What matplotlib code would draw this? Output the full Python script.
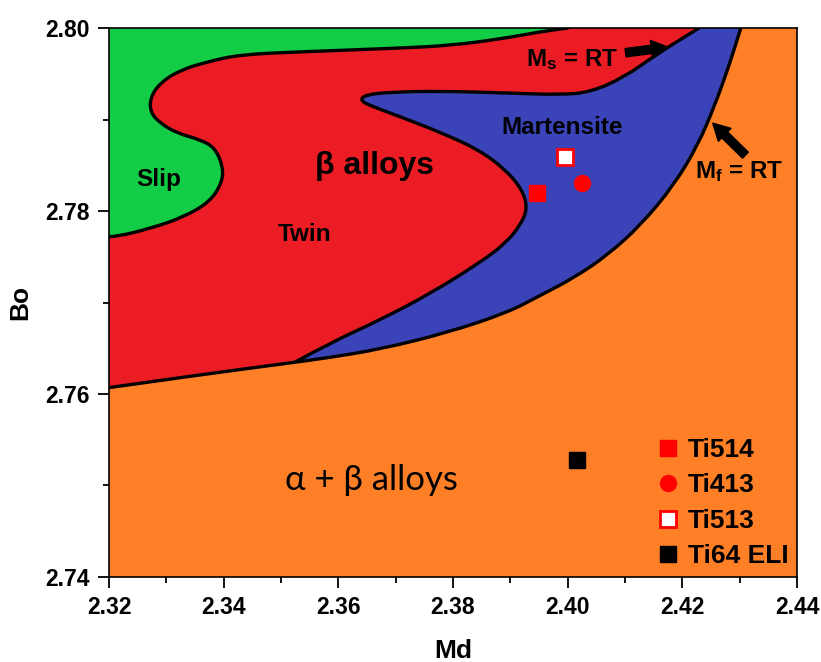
"""Bo-Md phase stability map with alloy positions."""
import numpy as np
import matplotlib
matplotlib.use("Agg")
import matplotlib.pyplot as plt
from matplotlib.path import Path
from matplotlib.patches import PathPatch
from matplotlib.ticker import MultipleLocator, FormatStrFormatter

plt.rcParams["font.family"] = ["Liberation Sans", "DejaVu Sans"]
plt.rcParams["font.weight"] = "bold"
plt.rcParams["mathtext.fontset"] = "custom"
plt.rcParams["mathtext.rm"] = "Liberation Sans:bold"
plt.rcParams["mathtext.it"] = "Liberation Sans:bold"
plt.rcParams["mathtext.bf"] = "Liberation Sans:bold"

XLIM = (2.32, 2.44)
YLIM = (2.74, 2.80)

# alpha+beta / beta boundary, continuing as the Mf = RT line
bottom_md = [2.3200, 2.3359, 2.3516, 2.3586, 2.3673, 2.3790, 2.3895, 2.3953,
             2.4011, 2.4070, 2.4128, 2.4185, 2.4227, 2.4255, 2.4280, 2.4302]
bottom_bo = [2.7607, 2.7621, 2.7634, 2.7640, 2.7649, 2.7667, 2.7689, 2.7708,
             2.7727, 2.7752, 2.7785, 2.7828, 2.7872, 2.7913, 2.7956, 2.8000]

# slip / twin boundary
slip_md = [2.3200, 2.3214, 2.3272, 2.3329, 2.3376, 2.3397, 2.3399, 2.3385,
           2.3359, 2.3319, 2.3289, 2.3272, 2.3272, 2.3289, 2.3324, 2.3371,
           2.3429, 2.3534, 2.3708, 2.3796, 2.3883, 2.3953, 2.4000]
slip_bo = [2.7772, 2.7772, 2.7781, 2.7793, 2.7810, 2.7831, 2.7848, 2.7869,
           2.7878, 2.7885, 2.7896, 2.7908, 2.7924, 2.7940, 2.7954, 2.7963,
           2.7971, 2.7974, 2.7978, 2.7981, 2.7988, 2.7996, 2.8000]

# Ms = RT line (left edge of martensite field)
ms_md = [2.3525, 2.3586, 2.3673, 2.3761, 2.3848, 2.3892, 2.3918, 2.3930,
         2.3921, 2.3892, 2.3845, 2.3778, 2.3708, 2.3656, 2.3638, 2.3647,
         2.3691, 2.3778, 2.3895, 2.3988, 2.4040, 2.4098, 2.4157, 2.4206, 2.4229]
ms_bo = [2.7635, 2.7656, 2.7681, 2.7710, 2.7744, 2.7765, 2.7785, 2.7803,
         2.7823, 2.7845, 2.7867, 2.7886, 2.7903, 2.7915, 2.7921, 2.7927,
         2.7930, 2.7931, 2.7929, 2.7927, 2.7930, 2.7946, 2.7972, 2.7991, 2.8000]

alloys = ["Ti514", "Ti413", "Ti513", "Ti64 ELI"]
alloy_md = [2.3946, 2.4025, 2.3995, 2.4016]
alloy_bo = [2.7820, 2.7831, 2.7859, 2.7528]

GREEN = "#12cd45"
RED = "#ec1c24"
BLUE = "#3a43b8"
ORANGE = "#fe7f26"


def smooth_path(*segments, closed=False):
    """Quadratic-bezier path per segment (read points used as control points),
    segments joined by straight lines."""
    verts, codes = [], []
    for xs, ys in segments:
        pts = np.column_stack([xs, ys])
        verts.append(pts[0])
        codes.append(Path.LINETO if codes else Path.MOVETO)
        for i in range(1, len(pts) - 1):
            verts += [pts[i], (pts[i] + pts[i + 1]) / 2]
            codes += [Path.CURVE3, Path.CURVE3]
        if len(pts) > 1:
            verts.append(pts[-1])
            codes.append(Path.LINETO)
    if closed:
        verts.append(verts[0])
        codes.append(Path.CLOSEPOLY)
    return Path(verts, codes)


fig = plt.figure(figsize=(8.21, 6.62), dpi=100)
ax = fig.add_axes([0.1328, 0.1284, 0.838, 0.8293])
ax.set_facecolor(ORANGE)

corner = ([XLIM[0]], [YLIM[1]])

# beta field (everything above the bottom line)
ax.add_patch(PathPatch(smooth_path((bottom_md, bottom_bo), corner, closed=True),
                       fc=RED, lw=0, zorder=1))
# slip field
ax.add_patch(PathPatch(smooth_path((slip_md, slip_bo), corner, closed=True),
                       fc=GREEN, lw=0, zorder=1))
# martensite field: up the Ms line, then back down along the Mf line
bmd = np.array(bottom_md)
bbo = np.array(bottom_bo)
right = bmd > ms_md[0]
ax.add_patch(PathPatch(smooth_path((ms_md, ms_bo), (bmd[right][::-1], bbo[right][::-1]),
                                   closed=True), fc=BLUE, lw=0, zorder=1))

for xs, ys in [(bottom_md, bottom_bo), (slip_md, slip_bo), (ms_md, ms_bo)]:
    ax.add_patch(PathPatch(smooth_path((xs, ys)), fill=False, ec="black", lw=2.4,
                           joinstyle="round", capstyle="round", zorder=2))

styles = [dict(marker="s", mfc="red", mec="red"),
          dict(marker="o", mfc="red", mec="red"),
          dict(marker="s", mfc="white", mec="red", mew=2),
          dict(marker="s", mfc="black", mec="black")]
for name, x, y, st in zip(alloys, alloy_md, alloy_bo, styles):
    ax.plot([x], [y], linestyle="none", ms=11.5, label=name, zorder=3, **st)

ax.text(2.3663, 2.7849, "β alloys", fontsize=23, ha="center", va="center", zorder=4)
ax.text(2.3286, 2.7834, "Slip", fontsize=17.5, ha="center", va="center", zorder=4)
ax.text(2.3541, 2.7774, "Twin", fontsize=17.5, ha="center", va="center", zorder=4)
ax.text(2.3990, 2.7891, "Martensite", fontsize=17.5, ha="center", va="center", zorder=4)
ax.text(2.4007, 2.7965, r"M$_\mathrm{s}$ = RT", fontsize=17.5, ha="center", va="center", zorder=4)
ax.text(2.4299, 2.7843, r"M$_\mathrm{f}$ = RT", fontsize=17.5, ha="center", va="center", zorder=4)
ax.text(2.3658, 2.7506, "α + β alloys", fontsize=25, fontweight="normal",
        family=["Lato", "Open Sans", "DejaVu Sans"], ha="center", va="center", zorder=4)

arrow = dict(arrowstyle="simple,head_length=0.6,head_width=0.65,tail_width=0.3",
             color="black", mutation_scale=20, shrinkA=0, shrinkB=0)
ax.annotate("", xy=(2.4175, 2.7979), xytext=(2.4101, 2.7973), arrowprops=arrow, zorder=4)
ax.annotate("", xy=(2.4253, 2.7896), xytext=(2.4310, 2.7861), arrowprops=arrow, zorder=4)

ax.set_xlim(*XLIM)
ax.set_ylim(*YLIM)
ax.xaxis.set_major_locator(MultipleLocator(0.02))
ax.xaxis.set_minor_locator(MultipleLocator(0.01))
ax.yaxis.set_major_locator(MultipleLocator(0.02))
ax.yaxis.set_minor_locator(MultipleLocator(0.01))
ax.xaxis.set_major_formatter(FormatStrFormatter("%.2f"))
ax.yaxis.set_major_formatter(FormatStrFormatter("%.2f"))
ax.tick_params(which="major", direction="out", length=8, width=1.3, labelsize=16.5, pad=6)
ax.tick_params(which="minor", direction="out", length=4, width=1.3)
for s in ax.spines.values():
    s.set_linewidth(1.2)
    s.set_zorder(5)

ax.set_xlabel("Md", fontsize=19, fontweight="bold", labelpad=14)
ax.set_ylabel("Bo", fontsize=19, fontweight="bold", labelpad=9)

ax.legend(loc="upper left", bbox_to_anchor=(0.793, 0.253), frameon=False,
          fontsize=19, handlelength=1.0, handletextpad=0.25, labelspacing=0.43,
          borderpad=0, borderaxespad=0, markerscale=1.0)

fig.savefig("out.png", dpi=100)
